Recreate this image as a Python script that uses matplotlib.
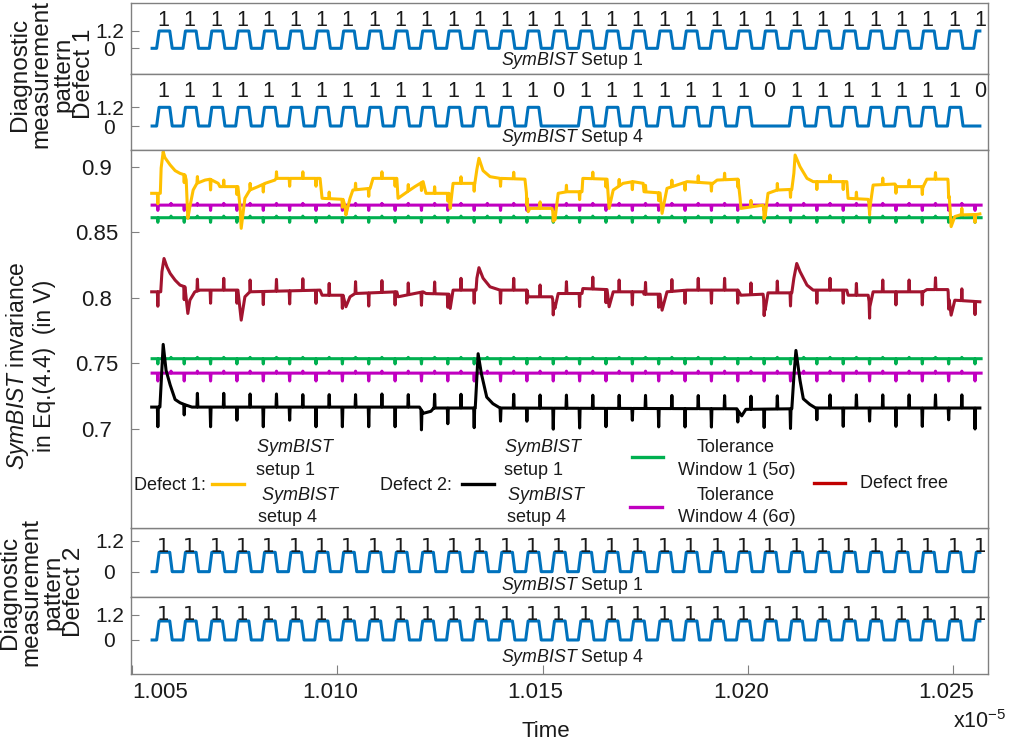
import numpy as np
import matplotlib
matplotlib.use("Agg")
import matplotlib.pyplot as plt
from matplotlib.lines import Line2D
from matplotlib.transforms import ScaledTranslation

plt.rcParams['font.family'] = ['Liberation Sans', 'DejaVu Sans']
plt.rcParams['mathtext.fontset'] = 'custom'
plt.rcParams['mathtext.rm'] = 'Liberation Sans'
plt.rcParams['mathtext.it'] = 'Liberation Sans:italic'
plt.rcParams['mathtext.sf'] = 'Liberation Sans'

# ------------------------------------------------------------------ data
# time in ns (axis shows seconds x1e-5, i.e. ns / 1e4)
clock_start_ns = 10056.3
clock_period_ns = 6.42
trace_start_ns = 10054.9
trace_end_ns = 10256.5

bits_defect1_setup1 = [1, 1, 1, 1, 1, 1, 1, 1, 1, 1, 1, 1, 1, 1, 1, 1,
                       1, 1, 1, 1, 1, 1, 1, 1, 1, 1, 1, 1, 1, 1, 1, 1]
bits_defect1_setup4 = [1, 1, 1, 1, 1, 1, 1, 1, 1, 1, 1, 1, 1, 1, 1, 0,
                       1, 1, 1, 1, 1, 1, 1, 0, 1, 1, 1, 1, 1, 1, 1, 0]
bits_defect2_setup1 = [1, 1, 1, 1, 1, 1, 1, 1, 1, 1, 1, 1, 1, 1, 1, 1,
                       1, 1, 1, 1, 1, 1, 1, 1, 1, 1, 1, 1, 1, 1, 1, 1]
bits_defect2_setup4 = [1, 1, 1, 1, 1, 1, 1, 1, 1, 1, 1, 1, 1, 1, 1, 1,
                       1, 1, 1, 1, 1, 1, 1, 1, 1, 1, 1, 1, 1, 1, 1, 1]

high_defect1_setup1 = 1.2
high_defect1_setup4 = 1.2
high_defect2_setup1 = 0.75
high_defect2_setup4 = 0.91

# Defect 1 invariance trace (ns, V)
defect1_points = [
    (10054.8, 0.8797), (10056.9, 0.8797), (10057.1, 0.8990), (10057.6, 0.9115),
    (10058.0, 0.9070), (10059.3, 0.9013), (10060.5, 0.8970), (10061.7, 0.8949),
    (10062.9, 0.8937), (10063.2, 0.8900), (10063.6, 0.8606), (10064.1, 0.8695),
    (10064.9, 0.8822), (10065.8, 0.8873), (10067.8, 0.8898), (10069.0, 0.8905),
    (10071.0, 0.8873), (10071.4, 0.8848), (10075.8, 0.8848), (10076.3, 0.8700),
    (10076.6, 0.8530), (10077.5, 0.8759), (10078.7, 0.8822), (10080.7, 0.8848),
    (10082.4, 0.8873), (10084.8, 0.8898), (10085.1, 0.8911), (10095.8, 0.8911),
    (10096.3, 0.8759), (10101.4, 0.8751), (10101.9, 0.8700), (10102.1, 0.8632),
    (10103.1, 0.8759), (10103.8, 0.8822), (10108.0, 0.8835), (10108.7, 0.8911),
    (10114.5, 0.8911), (10114.8, 0.8759), (10116.5, 0.8797), (10118.9, 0.8848),
    (10120.9, 0.8886), (10121.6, 0.8797), (10127.2, 0.8797), (10127.5, 0.8682),
    (10128.2, 0.8873), (10133.5, 0.8873), (10134.0, 0.8980), (10134.5, 0.9064),
    (10135.5, 0.8970), (10137.2, 0.8924), (10139.6, 0.8911), (10145.7, 0.8905),
    (10146.2, 0.8760), (10146.5, 0.8657), (10146.9, 0.8682), (10152.3, 0.8682),
    (10153.0, 0.8593), (10153.8, 0.8797), (10155.9, 0.8809), (10159.6, 0.8809),
    (10159.8, 0.8911), (10165.7, 0.8905), (10166.2, 0.8682), (10167.2, 0.8822),
    (10169.6, 0.8873), (10172.0, 0.8886), (10174.5, 0.8873), (10174.7, 0.8809),
    (10178.6, 0.8800), (10179.1, 0.8644), (10180.3, 0.8835), (10185.2, 0.8886),
    (10191.5, 0.8873), (10192.5, 0.8898), (10197.6, 0.8905), (10198.1, 0.8760),
    (10198.3, 0.8682), (10203.7, 0.8707), (10204.2, 0.8620), (10204.9, 0.8797),
    (10207.1, 0.8822), (10210.7, 0.8827), (10211.2, 0.8950), (10211.5, 0.9089),
    (10212.7, 0.9000), (10214.4, 0.8911), (10215.9, 0.8886), (10224.1, 0.8886),
    (10224.4, 0.8759), (10229.3, 0.8751), (10229.7, 0.8682), (10230.5, 0.8860),
    (10235.8, 0.8868), (10236.3, 0.8848), (10242.7, 0.8848), (10243.6, 0.8905),
    (10248.7, 0.8905), (10249.2, 0.8700), (10249.5, 0.8543), (10250.4, 0.8620),
    (10251.7, 0.8632), (10255.8, 0.8636), (10256.5, 0.8640),
]

# Defect-free trace (ns, V)
defect_free_points = [
    (10054.8, 0.8046), (10057.0, 0.8046), (10057.3, 0.8200), (10057.8, 0.8300),
    (10058.5, 0.8237), (10059.3, 0.8186), (10060.5, 0.8135), (10061.7, 0.8097),
    (10062.9, 0.8084), (10063.2, 0.8000), (10063.6, 0.7881), (10064.1, 0.7982),
    (10065.3, 0.8046), (10066.6, 0.8059), (10075.8, 0.8059), (10076.6, 0.7830),
    (10077.5, 0.8008), (10078.7, 0.8046), (10095.8, 0.8059), (10096.3, 0.8020),
    (10101.4, 0.8020), (10102.1, 0.7932), (10103.1, 0.8008), (10104.3, 0.8033),
    (10114.5, 0.8046), (10114.8, 0.8008), (10120.9, 0.8046), (10121.6, 0.8033),
    (10127.2, 0.8028), (10127.5, 0.7919), (10128.2, 0.8059), (10133.8, 0.8059),
    (10134.0, 0.8150), (10134.5, 0.8230), (10135.5, 0.8150), (10137.2, 0.8084),
    (10139.6, 0.8059), (10146.2, 0.8059), (10146.5, 0.8008), (10152.3, 0.8008),
    (10153.0, 0.7919), (10153.8, 0.8033), (10159.6, 0.8033), (10159.8, 0.8071),
    (10165.7, 0.8063), (10166.2, 0.7932), (10167.2, 0.8046), (10174.5, 0.8046),
    (10174.7, 0.8028), (10178.6, 0.8028), (10179.1, 0.7906), (10180.3, 0.8046),
    (10185.2, 0.8059), (10197.6, 0.8059), (10198.3, 0.8020), (10203.7, 0.8028),
    (10204.2, 0.7906), (10204.9, 0.8038), (10210.7, 0.8038), (10211.2, 0.8150),
    (10211.9, 0.8262), (10212.7, 0.8200), (10214.4, 0.8097), (10215.9, 0.8059),
    (10224.1, 0.8059), (10224.4, 0.8020), (10229.3, 0.8020), (10229.7, 0.7932),
    (10230.5, 0.8046), (10242.7, 0.8046), (10243.6, 0.8063), (10248.7, 0.8063),
    (10249.5, 0.7868), (10250.4, 0.7982), (10256.5, 0.7970),
]

# Defect 2 invariance trace (ns, V)
defect2_points = [
    (10054.8, 0.7167), (10056.8, 0.7167), (10057.2, 0.7400), (10057.6, 0.7645),
    (10058.3, 0.7447), (10059.3, 0.7336), (10060.5, 0.7225), (10061.7, 0.7200),
    (10062.9, 0.7185), (10064.6, 0.7167), (10120.0, 0.7167), (10121.0, 0.7120),
    (10122.8, 0.7135), (10123.5, 0.7160), (10133.6, 0.7160), (10134.0, 0.7400),
    (10134.3, 0.7574), (10135.1, 0.7421), (10136.4, 0.7243), (10137.9, 0.7193),
    (10139.6, 0.7160), (10197.3, 0.7154), (10198.5, 0.7100), (10199.5, 0.7150),
    (10210.7, 0.7154), (10211.2, 0.7400), (10211.7, 0.7599), (10212.7, 0.7370),
    (10213.5, 0.7230), (10215.1, 0.7187), (10216.5, 0.7160), (10256.5, 0.7160),
]

# switching glitches: at rising clock edges (dn) and falling edges (up), per bit
defect1_glitch_dn = [-0.008, -0.006, -0.008, -0.006, -0.006, -0.006, -0.006, -0.006,
                     -0.006, -0.006, -0.006, -0.006, -0.006, -0.006, -0.006, -0.006,
                     -0.006, -0.006, -0.006, -0.006, -0.006, -0.006, -0.006, -0.006,
                     -0.006, -0.006, -0.006, -0.006, -0.006, -0.006, -0.006, -0.006]
defect1_glitch_up = [0.000, 0.005, 0.005, 0.005, 0.005, 0.005, 0.005, 0.005,
                     0.005, 0.005, 0.005, 0.005, 0.000, 0.005, 0.005, 0.005,
                     0.005, 0.005, 0.005, 0.005, 0.005, 0.005, 0.005, 0.005,
                     0.000, 0.005, 0.005, 0.005, 0.005, 0.005, 0.005, 0.005]
defect_free_glitch_dn = [-0.011, -0.010, -0.010, -0.010, -0.010, -0.010, -0.010, -0.010,
                         -0.010, -0.010, -0.010, -0.010, -0.010, -0.010, -0.010, -0.010,
                         -0.010, -0.010, -0.010, -0.010, -0.010, -0.010, -0.010, -0.010,
                         -0.010, -0.010, -0.010, -0.010, -0.010, -0.010, -0.010, -0.010]
defect_free_glitch_up = [0.000, 0.009, 0.009, 0.009, 0.009, 0.009, 0.009, 0.009,
                         0.009, 0.009, 0.009, 0.009, 0.000, 0.009, 0.009, 0.009,
                         0.009, 0.009, 0.009, 0.009, 0.009, 0.009, 0.009, 0.009,
                         0.000, 0.009, 0.009, 0.009, 0.009, 0.009, 0.009, 0.009]
defect2_glitch_dn = [-0.015, -0.008, -0.015, -0.010, -0.015, -0.010, -0.015, -0.015,
                     -0.015, -0.015, -0.015, -0.012, -0.015, -0.010, -0.010, -0.016,
                     -0.015, -0.014, -0.009, -0.014, -0.014, -0.014, -0.009, -0.014,
                     -0.015, -0.009, -0.014, -0.010, -0.014, -0.014, -0.009, -0.016]
defect2_glitch_up = [0.000, 0.0105, 0.0105, 0.010, 0.010, 0.0095, 0.0095, 0.0095,
                     0.010, 0.0095, 0.0105, 0.0105, 0.000, 0.0105, 0.010, 0.010,
                     0.010, 0.010, 0.010, 0.010, 0.010, 0.010, 0.010, 0.010,
                     0.000, 0.010, 0.010, 0.010, 0.010, 0.010, 0.010, 0.010]

# tolerance windows (V) and their glitch sizes
tol_window1_defect1 = 0.8611
tol_window4_defect1 = 0.8707
tol_window1_defect2 = 0.7536
tol_window4_defect2 = 0.7426
tol_glitch = {  # (down, up)
    'w1d1': (-0.0035, 0.0012), 'w4d1': (-0.0040, 0.0013),
    'w1d2': (-0.0040, 0.0010), 'w4d2': (-0.0060, 0.0015),
}

x_tick_values = [1.005, 1.010, 1.015, 1.020, 1.025]
x_tick_labels = ['1.005', '1.010', '1.015', '1.020', '1.025']
mid_tick_values = [0.7, 0.75, 0.8, 0.85, 0.9]
mid_tick_labels = ['0.7', '0.75', '0.8', '0.85', '0.9']

# ------------------------------------------------------------------ style
W, H = 1011, 744
BLUE = '#0072BD'
YELLOW = '#FFC000'
DARKRED = '#A2142F'
GREEN = '#00B050'
MAGENTA = '#C000C0'
GRAY = '#808080'
TXT = '#1a1a1a'
XLIM = (10049.76 / 1e4, 10258.48 / 1e4)

fig = plt.figure(figsize=(W / 100, H / 100), dpi=100)


def add_ax(top, bottom):
    return fig.add_axes([131 / W, 1 - bottom / H, 857 / W, (bottom - top) / H])


def style(ax, ypad, ysize):
    for s in ax.spines.values():
        s.set_color(GRAY)
        s.set_linewidth(1.0)
    ax.set_xlim(*XLIM)
    ax.tick_params(axis='both', direction='in', color=GRAY, labelcolor=TXT,
                   labelsize=16)
    ax.tick_params(axis='y', length=5.8, pad=ypad, labelsize=ysize)
    ax.tick_params(axis='x', bottom=False, labelbottom=False)


def pulse_wave(bits, high):
    t = [trace_start_ns]
    v = [0.0]
    for k, b in enumerate(bits):
        r = clock_start_ns + k * clock_period_ns
        lvl = high * b
        t += [r - 0.3, r + 0.3, r + 2.9, r + 3.5]
        v += [0.0, lvl, lvl, 0.0]
    t = np.array(t)
    v = np.array(v)
    end_v = np.interp(trace_end_ns, t, v)
    keep = t < trace_end_ns
    return np.append(t[keep], trace_end_ns) / 1e4, np.append(v[keep], end_v)


def with_glitches(points, g_dn, g_up):
    bt = np.array([p[0] for p in points])
    bv = np.array([p[1] for p in points])
    k = np.arange(len(g_dn))
    rise = clock_start_ns + k * clock_period_ns
    fall = rise + clock_period_ns / 2
    ev_t = np.concatenate([rise, fall])
    ev_a = np.concatenate([np.asarray(g_dn, float), np.asarray(g_up, float)])
    m = (ev_t > bt[0]) & (ev_t < bt[-1]) & (ev_a != 0)
    ev_t, ev_a = ev_t[m], ev_a[m]
    w = 0.12
    t_all = np.concatenate([bt, ev_t - w, ev_t, ev_t + w])
    add = np.concatenate([np.zeros(len(bt)), np.zeros(len(ev_t)), ev_a,
                          np.zeros(len(ev_t))])
    o = np.argsort(t_all, kind='stable')
    t_all, add = t_all[o], add[o]
    return t_all / 1e4, np.interp(t_all, bt, bv) + add


def pattern_panel(top, bottom, bits, high, ylim, lab_y, lab_family, lab_size,
                  setup_txt, setup_y):
    ax = add_ax(top, bottom)
    style(ax, 15.5, 15)
    t, v = pulse_wave(bits, high)
    ax.plot(t, v, color=BLUE, lw=2.2)
    for k, b in enumerate(bits):
        xc = (clock_start_ns + k * clock_period_ns + 1.3) / 1e4
        ax.text(xc, lab_y, str(b), ha='center', va='baseline', fontsize=lab_size,
                family=lab_family, color=TXT)
    ax.set_ylim(*ylim)
    ax.set_yticks([0, 1.2])
    ax.set_yticklabels(['0', '1.2'])
    for lbl in ax.get_yticklabels():
        lbl.set_ha('center')
    ax.text(0.515, setup_y, setup_txt, transform=ax.transAxes, ha='center',
            va='center', fontsize=12.8, color=TXT)
    return ax


axA = pattern_panel(3, 74, bits_defect1_setup1, high_defect1_setup1, (-1.78, 3.14),
                    1.54, ['Liberation Sans'], 15.5,
                    r'$\mathit{SymBIST}$ Setup 1', 0.19)
axB = pattern_panel(74, 150, bits_defect1_setup4, high_defect1_setup4, (-1.54, 3.34),
                    1.86, ['Liberation Sans'], 15.5,
                    r'$\mathit{SymBIST}$ Setup 4', 0.16)
axC = pattern_panel(528, 597, bits_defect2_setup1, high_defect2_setup1, (-0.98, 1.69),
                    0.78, ['DejaVu Sans'], 14.5,
                    r'$\mathit{SymBIST}$ Setup 1', 0.17)
axD = pattern_panel(597, 674, bits_defect2_setup4, high_defect2_setup4, (-1.63, 2.06),
                    0.98, ['DejaVu Sans'], 14.5,
                    r'$\mathit{SymBIST}$ Setup 4', 0.21)

# ------------------------------------------------------------------ middle panel
axM = add_ax(150, 528)
style(axM, 24.5, 16)
axM.set_ylim(0.62451, 0.91273)
axM.set_yticks(mid_tick_values)
axM.set_yticklabels(mid_tick_labels)
for lbl in axM.get_yticklabels():
    lbl.set_ha('center')

for lvl, key, col in [(tol_window1_defect1, 'w1d1', GREEN),
                      (tol_window4_defect1, 'w4d1', MAGENTA),
                      (tol_window1_defect2, 'w1d2', GREEN),
                      (tol_window4_defect2, 'w4d2', MAGENTA)]:
    dn, up = tol_glitch[key]
    n = len(bits_defect1_setup1)
    t, v = with_glitches([(trace_start_ns, lvl), (trace_end_ns + 0.3, lvl)],
                         [dn] * n, [up] * n)
    axM.plot(t, v, color=col, lw=2.2)

for pts, gd, gu, col in [(defect_free_points, defect_free_glitch_dn, defect_free_glitch_up, DARKRED),
                         (defect1_points, defect1_glitch_dn, defect1_glitch_up, YELLOW),
                         (defect2_points, defect2_glitch_dn, defect2_glitch_up, 'black')]:
    t, v = with_glitches(pts, gd, gu)
    axM.plot(t, v, color=col, lw=2.2)

# ------------------------------------------------------------------ bottom x axis
axD.tick_params(axis='x', bottom=True, labelbottom=True, length=6.5, pad=6,
                labelsize=16)
axD.set_xticks(x_tick_values)
axD.set_xticklabels(x_tick_labels)
xl = axD.get_xticklabels()
xl[0].set_ha('left')
for lbl in xl[1:]:
    lbl.set_transform(lbl.get_transform() + ScaledTranslation(-7 / 100, 0, fig.dpi_scale_trans))


# ------------------------------------------------------------------ texts
def fx(px):
    return px / W


def fy(py):
    return 1 - py / H


def vlabel(txt, bx, cy, size, ls):
    # bx: baseline (px) of the last line; earlier lines stack to the left
    fig.text(fx(bx), fy(cy), txt, rotation=90, rotation_mode='anchor',
             ha='center', va='baseline', fontsize=size, color=TXT,
             linespacing=ls)


vlabel('Diagnostic\nmeasurement\npattern\nDefect 1', 91, 74, 17.5, 0.97)
vlabel('Diagnostic\nmeasurement\npattern\nDefect 2', 81, 592, 17.5, 0.97)
vlabel('$\\mathit{SymBIST}$ invariance\nin Eq.(4.4)  (in V)', 49, 366, 16.5, 1.1)

fig.text(fx(546), fy(737), 'Time', ha='center', va='baseline', fontsize=16, color=TXT)
fig.text(fx(953), fy(728), r'x10$^{-5}$', ha='left', va='baseline', fontsize=15.5, color=TXT)

# legend
LS = 13


def ltext(txt, x, yc, ha='left'):
    fig.text(fx(x), fy(yc + 6.5), txt, ha=ha, va='baseline', fontsize=LS, color=TXT)


def lswatch(x0, x1, y, col):
    fig.add_artist(Line2D([fx(x0), fx(x1)], [fy(y), fy(y)], color=col, lw=2.4,
                          transform=fig.transFigure))


ltext('Defect 1:', 134, 484)
lswatch(212, 244, 484, YELLOW)
ltext(r'$\mathit{SymBIST}$', 256, 446)
ltext('setup 1', 256, 468)
ltext(r'$\mathit{SymBIST}$', 261, 493)
ltext('setup 4', 258, 515)

ltext('Defect 2:', 380, 484)
lswatch(462, 494, 484, 'black')
ltext(r'$\mathit{SymBIST}$', 504, 446)
ltext('setup 1', 504, 468)
ltext(r'$\mathit{SymBIST}$', 507, 493)
ltext('setup 4', 507, 515)

lswatch(632, 663, 457, GREEN)
ltext('Tolerance', 736, 446, 'center')
ltext('Window 1 (5σ)', 737, 468, 'center')
lswatch(630, 662, 507, MAGENTA)
ltext('Tolerance', 736, 494, 'center')
ltext('Window 4 (6σ)', 737, 515, 'center')

lswatch(814, 845, 483, '#C00000')
ltext('Defect free', 860, 482)

fig.savefig('out.png', dpi=100)
